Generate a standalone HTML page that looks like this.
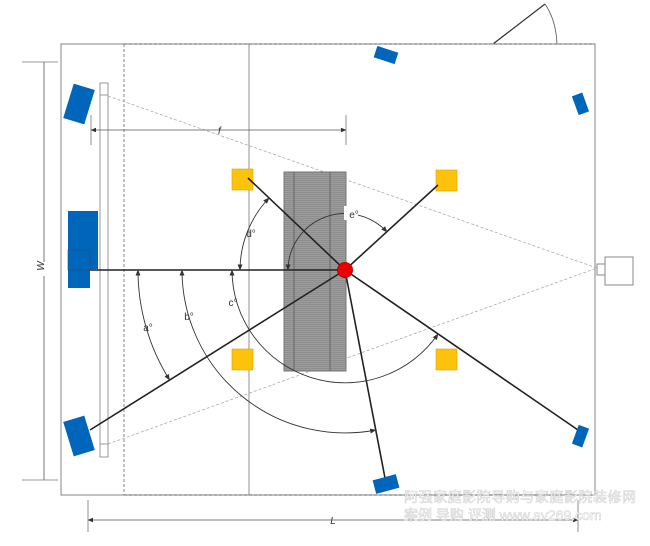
<!DOCTYPE html>
<html><head><meta charset="utf-8"><style>
html,body{margin:0;padding:0;background:#fff;}
svg{display:block;font-family:"Liberation Sans","Noto Sans CJK SC",sans-serif;}
</style></head><body>
<svg width="650" height="546" viewBox="0 0 650 546" xmlns="http://www.w3.org/2000/svg">
<defs>
<marker id="ar" viewBox="0 0 10 10" refX="9" refY="5" markerWidth="7" markerHeight="7" orient="auto-start-reverse"><path d="M0,1 L10,5 L0,9 z" fill="#333"/></marker>
<pattern id="st" width="4" height="2" patternUnits="userSpaceOnUse"><rect width="4" height="2" fill="#9c9c9c"/><rect width="4" height="1" fill="#8e8e8e"/></pattern>
</defs>
<line x1="493" y1="44" x2="545" y2="4" stroke="#333" stroke-width="1.2"/>
<path d="M545,4 Q556,20 557,44" fill="none" stroke="#555" stroke-width="0.8"/>
<rect x="61" y="44" width="534" height="451" fill="none" stroke="#999" stroke-width="1.2"/>
<line x1="124" y1="44" x2="124" y2="495" stroke="#666" stroke-width="0.8" stroke-dasharray="3,2"/>
<line x1="124" y1="44" x2="595" y2="44" stroke="#666" stroke-width="0.8" stroke-dasharray="3,2"/>
<line x1="124" y1="495" x2="595" y2="495" stroke="#666" stroke-width="0.8" stroke-dasharray="3,2"/>
<line x1="249" y1="44" x2="249" y2="495" stroke="#777" stroke-width="0.8"/>
<rect x="100" y="83" width="8" height="374" fill="none" stroke="#999" stroke-width="1"/>
<line x1="100" y1="95" x2="108" y2="95" stroke="#999"/>
<line x1="100" y1="444" x2="108" y2="444" stroke="#999"/>
<line x1="108" y1="96" x2="597" y2="268" stroke="#aaa" stroke-width="0.8" stroke-dasharray="3,2"/>
<line x1="108" y1="444" x2="597" y2="268" stroke="#aaa" stroke-width="0.8" stroke-dasharray="3,2"/>
<rect x="605" y="257" width="28" height="28" fill="#fff" stroke="#888"/>
<rect x="597" y="264" width="8" height="11" fill="#fff" stroke="#888"/>
<rect x="284" y="172" width="62" height="199" fill="url(#st)" stroke="#777"/>
<line x1="294" y1="172" x2="294" y2="371" stroke="#666"/>
<line x1="330" y1="172" x2="330" y2="371" stroke="#666"/>
<rect x="232" y="169" width="21" height="21" fill="#fcc20c" stroke="#d9a300" stroke-width="0.6"/>
<rect x="436" y="170" width="21" height="21" fill="#fcc20c" stroke="#d9a300" stroke-width="0.6"/>
<rect x="232" y="349" width="21" height="21" fill="#fcc20c" stroke="#d9a300" stroke-width="0.6"/>
<rect x="436" y="349" width="21" height="21" fill="#fcc20c" stroke="#d9a300" stroke-width="0.6"/>
<g stroke="#222" stroke-width="1.6">
<line x1="90" y1="270" x2="345" y2="270"/>
<line x1="90" y1="430" x2="345" y2="270"/>
<line x1="248" y1="178" x2="345" y2="270"/>
<line x1="438" y1="185" x2="345" y2="270"/>
<line x1="385" y1="478" x2="345" y2="270"/>
<line x1="578" y1="430" x2="345" y2="270"/>
</g>
<g fill="#0066bb">
<rect x="68" y="86" width="22" height="36" transform="rotate(17 79 104)"/>
<rect x="68" y="418" width="22" height="36" transform="rotate(-17 79 436)"/>
<rect x="68" y="211" width="30" height="59"/>
<rect x="68" y="250" width="22" height="38"/>
<rect x="375" y="49" width="22" height="12" transform="rotate(18 386 55)"/>
<rect x="575" y="94" width="11" height="20" transform="rotate(-20 580 104)"/>
<rect x="575" y="426" width="11" height="20" transform="rotate(20 580 436)"/>
<rect x="374" y="477" width="24" height="14" transform="rotate(-15 386 484)"/>
</g>
<rect x="68" y="250" width="22" height="20" fill="none" stroke="#2a4d7a" stroke-width="0.6"/>
<g fill="none" stroke="#333" stroke-width="0.9">
<path d="M138,270 A207,207 0 0 0 169.6,380" marker-start="url(#ar)" marker-end="url(#ar)"/>
<path d="M182,270 A163,163 0 0 0 375.8,430" marker-start="url(#ar)" marker-end="url(#ar)"/>
<path d="M232,270 A113,113 0 0 0 438,334" marker-start="url(#ar)" marker-end="url(#ar)"/>
<path d="M240,270 A105,105 0 0 1 269,198" marker-start="url(#ar)" marker-end="url(#ar)"/>
<path d="M288,270 A57,57 0 0 1 387,232" marker-start="url(#ar)" marker-end="url(#ar)"/>
</g>
<rect x="344" y="206" width="14" height="14" fill="#fff"/>
<g font-size="10" fill="#333" text-anchor="middle">
<text x="148" y="331">a°</text>
<text x="189" y="320">b°</text>
<text x="233" y="306">c°</text>
<text x="251" y="237">d°</text>
<text x="354" y="218">e°</text>
</g>
<circle cx="345" cy="270" r="7.5" fill="#e00" stroke="#b00"/>
<line x1="91" y1="130" x2="346" y2="130" stroke="#555" stroke-width="0.8" marker-start="url(#ar)" marker-end="url(#ar)"/>
<line x1="91" y1="115" x2="91" y2="145" stroke="#777" stroke-width="0.8"/>
<line x1="346" y1="115" x2="346" y2="145" stroke="#777" stroke-width="0.8"/>
<text x="218" y="134" font-size="10" fill="#333" font-style="italic">f</text>
<line x1="44" y1="62" x2="44" y2="480" stroke="#555" stroke-width="0.8"/>
<line x1="22" y1="62" x2="58" y2="62" stroke="#777" stroke-width="0.8"/>
<line x1="22" y1="480" x2="58" y2="480" stroke="#777" stroke-width="0.8"/>
<rect x="38" y="262" width="12" height="14" fill="#fff"/>
<text x="48" y="270" font-size="10" fill="#333" font-style="italic" transform="rotate(-90 44 270)" text-anchor="middle">W</text>
<line x1="88" y1="520" x2="578" y2="520" stroke="#555" stroke-width="0.8" marker-start="url(#ar)" marker-end="url(#ar)"/>
<line x1="88" y1="500" x2="88" y2="532" stroke="#777" stroke-width="0.8"/>
<line x1="578" y1="500" x2="578" y2="532" stroke="#777" stroke-width="0.8"/>
<text x="333" y="524" font-size="10" fill="#333" font-style="italic" text-anchor="middle">L</text>
<g font-size="14" fill="#fff" stroke="#d4d4d4" stroke-width="0.6">
<text x="404" y="502" textLength="232">阿强家庭影院导购与家庭影院装修网</text>
<text x="404" y="520">案例 导购 评测  www.av269.com</text>
</g>
</svg>
</body></html>
